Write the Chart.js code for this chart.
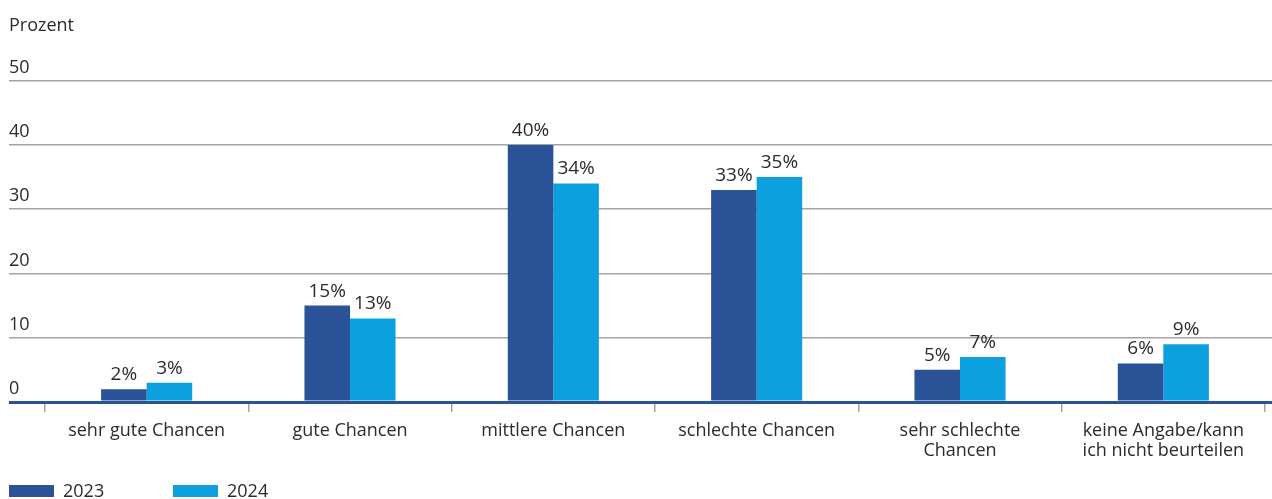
<!DOCTYPE html>
<html lang="de">
<head>
<meta charset="utf-8">
<title>Chancen</title>
<script src="https://cdn.jsdelivr.net/npm/chart.js@4/dist/chart.umd.min.js"></script>
<style>
  html, body { margin: 0; padding: 0; background: #ffffff; }
  #wrap { width: 1272px; height: 499px; }
</style>
</head>
<body>
<div id="wrap"><canvas id="c" width="1272" height="499"></canvas></div>
<script>
// Categories (multi-line labels as arrays)
const categories = [
  ['sehr gute Chancen'],
  ['gute Chancen'],
  ['mittlere Chancen'],
  ['schlechte Chancen'],
  ['sehr schlechte', 'Chancen'],
  ['keine Angabe/kann', 'ich nicht beurteilen']
];
const seriesNames = ['2023', '2024'];
const values2023 = [2, 15, 40, 33, 5, 6];
const values2024 = [3, 13, 34, 35, 7, 9];
const yTicks = [0, 10, 20, 30, 40, 50];
const unitLabel = 'Prozent';

const DARK = '#2a5397';
const LIGHT = '#0da0de';
const GRID = '#a3a3a3';
const TEXT = '#2b2b2b';
const FONT = '"Open Sans", "Noto Sans", sans-serif';
const FS = 18;      // axis, title and legend text
const FS_VAL = 19;  // value labels above the bars

const gridColor = ctx => (ctx.tick && ctx.tick.value === 0) ? DARK : GRID;
const gridWidth = ctx => (ctx.tick && ctx.tick.value === 0) ? 3 : 1.5;
const useYTicks = scale => { scale.ticks = yTicks.map(v => ({ value: v })); };

// Percentage labels above each bar
const valueLabels = {
  id: 'valueLabels',
  afterDatasetsDraw(chart) {
    const ctx = chart.ctx;
    ctx.save();
    ctx.font = FS_VAL + 'px ' + FONT;
    ctx.fillStyle = TEXT;
    ctx.textAlign = 'center';
    ctx.textBaseline = 'alphabetic';
    chart.data.datasets.forEach((ds, i) => {
      chart.getDatasetMeta(i).data.forEach((bar, j) => {
        ctx.fillText(ds.data[j] + '%', bar.x, bar.y - 9);
      });
    });
    ctx.restore();
  }
};

// Legend row along the bottom-left edge
const legendRow = {
  id: 'legendRow',
  afterDraw(chart) {
    const ctx = chart.ctx;
    const starts = [9, 173];
    const top = 485, boxW = 45, boxH = 12;
    ctx.save();
    ctx.font = FS + 'px ' + FONT;
    ctx.textBaseline = 'middle';
    ctx.textAlign = 'left';
    chart.data.datasets.forEach((ds, i) => {
      const x = starts[i];
      ctx.fillStyle = ds.backgroundColor;
      ctx.fillRect(x, top, boxW, boxH);
      ctx.fillStyle = TEXT;
      ctx.fillText(ds.label, x + boxW + 9, top + boxH / 2 + 0.5);
    });
    ctx.restore();
  }
};

new Chart(document.getElementById('c'), {
  type: 'bar',
  data: {
    labels: categories,
    datasets: [
      { label: seriesNames[0], data: values2023, backgroundColor: DARK, borderWidth: 0 },
      { label: seriesNames[1], data: values2024, backgroundColor: LIGHT, borderWidth: 0 }
    ]
  },
  options: {
    responsive: false,
    animation: false,
    devicePixelRatio: 1,
    categoryPercentage: 0.448,
    barPercentage: 1.0,
    layout: { padding: { left: 9, right: 0, top: 0, bottom: 37 } },
    plugins: {
      legend: { display: false },
      tooltip: { enabled: false },
      title: {
        display: true,
        text: unitLabel,
        align: 'start',
        color: TEXT,
        font: { family: FONT, size: FS, weight: 'normal' },
        padding: { top: 15, bottom: 44 }
      }
    },
    scales: {
      x: {
        grid: {
          offset: true,
          drawOnChartArea: false,
          drawTicks: true,
          tickLength: 10,
          color: GRID,
          lineWidth: 1.5
        },
        border: { display: false },
        ticks: {
          color: TEXT,
          font: { family: FONT, size: FS, lineHeight: 1.11 },
          padding: 9,
          maxRotation: 0,
          autoSkip: false
        },
        afterFit: s => { s.height = 60; }
      },
      y: {
        position: 'left',
        min: yTicks[0],
        max: yTicks[yTicks.length - 1],
        afterBuildTicks: useYTicks,
        grid: {
          color: gridColor,
          lineWidth: gridWidth,
          tickColor: gridColor,
          tickWidth: gridWidth,
          drawTicks: true,
          tickLength: 36
        },
        border: { display: false },
        ticks: {
          color: TEXT,
          font: { family: FONT, size: FS },
          crossAlign: 'far',
          labelOffset: -13,
          padding: 0
        },
        afterFit: s => { s.width = 36; }
      },
      yRight: {
        position: 'right',
        min: yTicks[0],
        max: yTicks[yTicks.length - 1],
        afterBuildTicks: useYTicks,
        grid: {
          drawOnChartArea: false,
          drawTicks: true,
          tickLength: 7,
          color: gridColor,
          lineWidth: gridWidth,
          tickColor: gridColor,
          tickWidth: gridWidth
        },
        border: { display: false },
        ticks: { display: false },
        afterFit: s => { s.width = 7; }
      }
    }
  },
  plugins: [valueLabels, legendRow]
});
</script>
</body>
</html>
